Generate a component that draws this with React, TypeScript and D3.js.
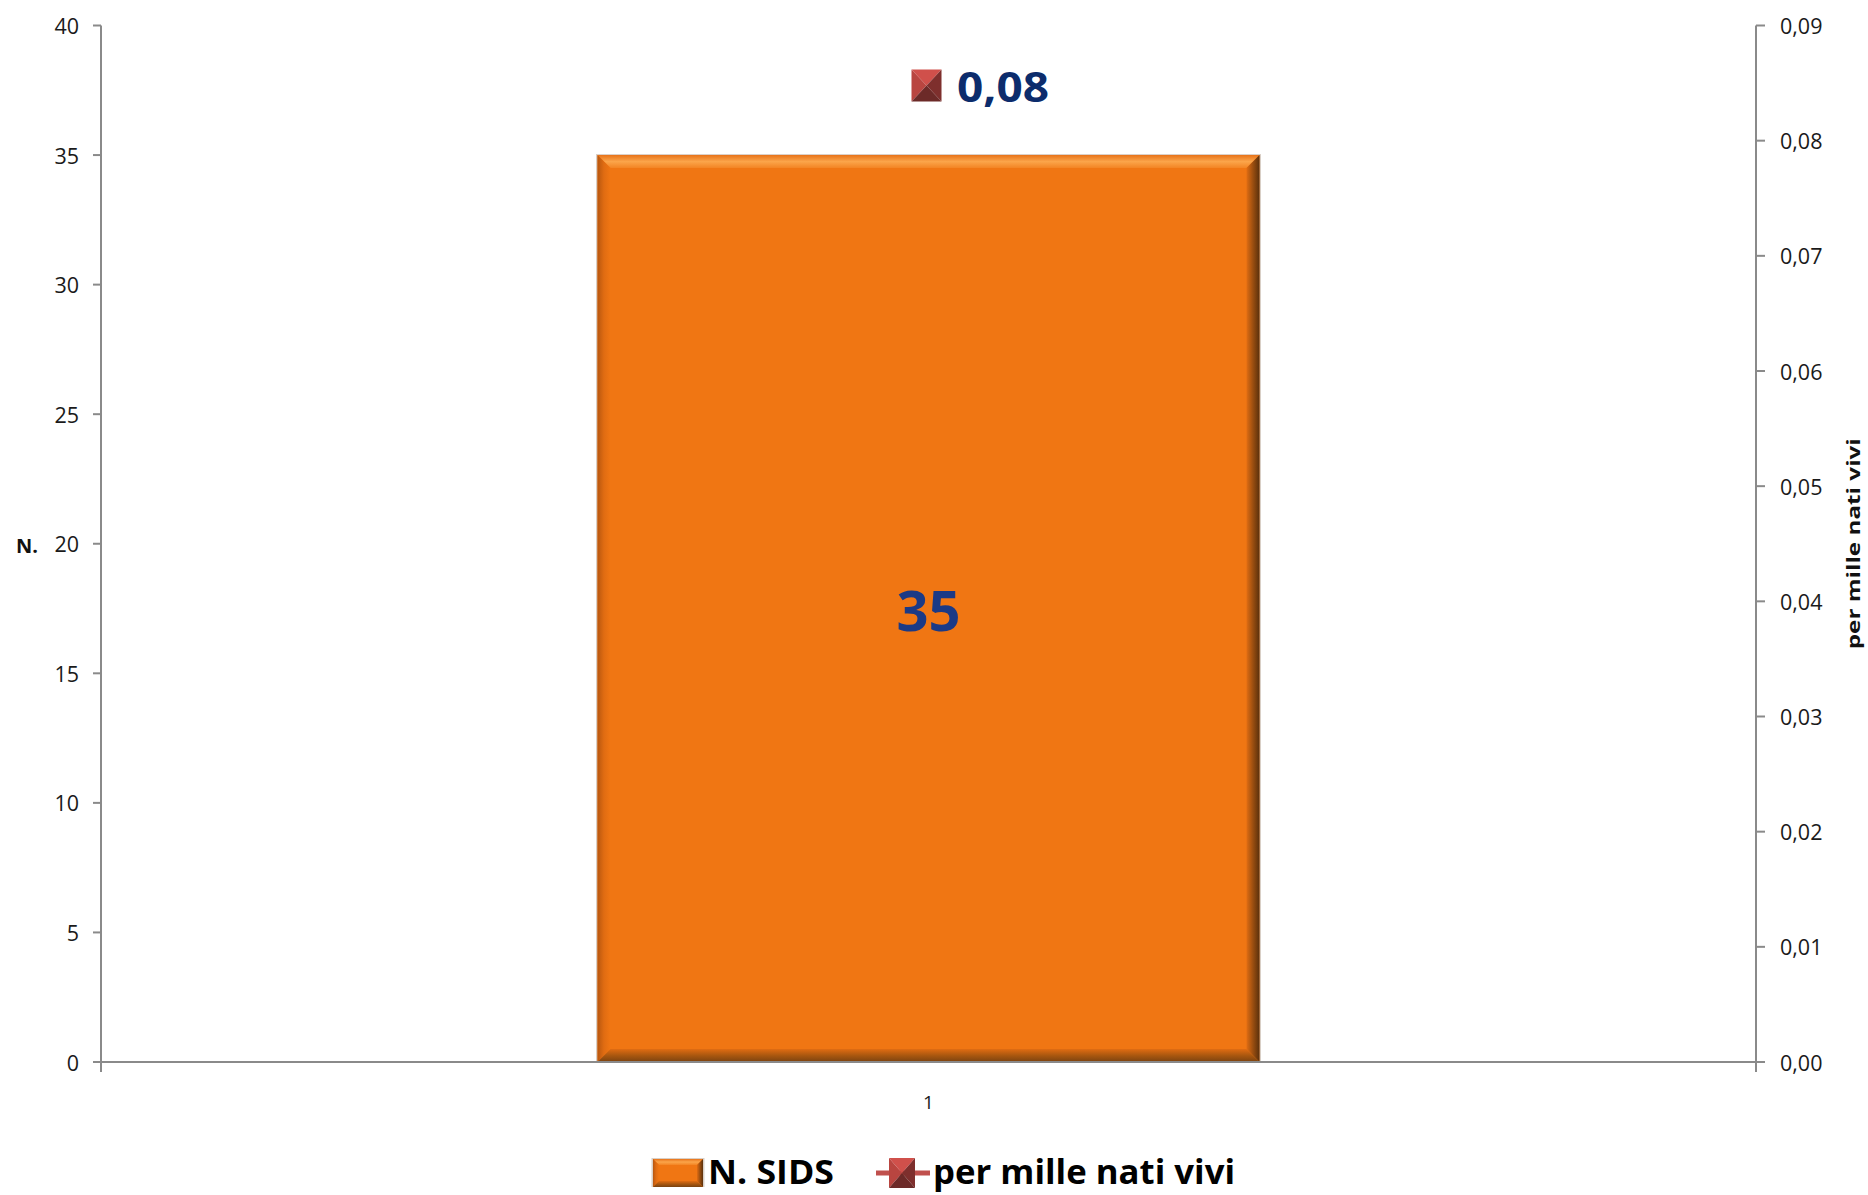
import React from "react";
import * as d3 from "d3";

const categories = ["1"];
const sidsCounts = [35];
const perMille = [0.0848];
const perMilleLabels = ["0,08"];
const leftTicks = [0, 5, 10, 15, 20, 25, 30, 35, 40];
const rightTicks = [0, 0.01, 0.02, 0.03, 0.04, 0.05, 0.06, 0.07, 0.08, 0.09];
const leftTitle = "N.";
const rightTitle = "per mille nati vivi";
const legendItems = ["N. SIDS", "per mille nati vivi"];

const W = 1868;
const H = 1195;
const X0 = 101;
const X1 = 1756;
const YTOP = 25.5;
const YBOT = 1062;
const FONT = "'Open Sans', 'Noto Sans', sans-serif";
const AXIS = "#8a8a8a";

const fmtRight = (v: number) => d3.format(".2f")(v).replace(".", ",");

function BevelRect({ x, y, w, h, b }: { x: number; y: number; w: number; h: number; b: number }) {
  const x2 = x + w;
  const y2 = y + h;
  return (
    <g>
      <rect x={x - 1.5} y={y - 1} width={w + 3} height={h + 1} fill="#d9cfc6" />
      <rect x={x} y={y} width={w} height={h} fill="#f07613" />
      <polygon points={`${x},${y} ${x2},${y} ${x2 - b},${y + b} ${x + b},${y + b}`} fill="url(#gTop)" />
      <polygon points={`${x},${y} ${x + b},${y + b} ${x + b},${y2 - b} ${x},${y2}`} fill="url(#gLeft)" />
      <polygon points={`${x2},${y} ${x2},${y2} ${x2 - b},${y2 - b} ${x2 - b},${y + b}`} fill="url(#gRight)" />
      <polygon points={`${x},${y2} ${x + b},${y2 - b} ${x2 - b},${y2 - b} ${x2},${y2}`} fill="url(#gBot)" />
    </g>
  );
}

function PyramidMarker({ cx, cy, w, h }: { cx: number; cy: number; w: number; h: number }) {
  const l = cx - w / 2, r = cx + w / 2, t = cy - h / 2, b = cy + h / 2;
  const ix = cx, iy = cy;
  return (
    <g>
      <polygon points={`${l},${t} ${r},${t} ${ix},${iy}`} fill="#d0504b" />
      <polygon points={`${l},${t} ${ix},${iy} ${l},${b}`} fill="#b94540" />
      <polygon points={`${r},${t} ${r},${b} ${ix},${iy}`} fill="#7e2f2d" />
      <polygon points={`${l},${b} ${ix},${iy} ${r},${b}`} fill="#6c2a28" />
    </g>
  );
}

export default function App() {
  const yLeft = d3.scaleLinear().domain([0, 40]).range([YBOT, YTOP]);
  const yRight = d3.scaleLinear().domain([0, 0.09]).range([YBOT, YTOP]);
  const x = d3.scaleBand<string>().domain(categories).range([X0, X1]).paddingInner(0.6).paddingOuter(0.3);

  return (
    <svg width={W} height={H} style={{ position: "absolute", left: 0, top: 0, background: "#fff" }} fontFamily={FONT}>
      <defs>
        <linearGradient id="gTop" x1="0" y1="0" x2="0" y2="1">
          <stop offset="0" stopColor="#e8731a" />
          <stop offset="0.5" stopColor="#fba54a" />
          <stop offset="1" stopColor="#f38423" />
        </linearGradient>
        <linearGradient id="gLeft" x1="0" y1="0" x2="1" y2="0">
          <stop offset="0" stopColor="#b8570f" />
          <stop offset="0.5" stopColor="#e06c12" />
          <stop offset="1" stopColor="#f07613" />
        </linearGradient>
        <linearGradient id="gRight" x1="1" y1="0" x2="0" y2="0">
          <stop offset="0" stopColor="#5a300c" />
          <stop offset="0.5" stopColor="#9a4e10" />
          <stop offset="1" stopColor="#e06c12" />
        </linearGradient>
        <linearGradient id="gBot" x1="0" y1="1" x2="0" y2="0">
          <stop offset="0" stopColor="#7a4210" />
          <stop offset="0.5" stopColor="#a9570f" />
          <stop offset="1" stopColor="#e06c12" />
        </linearGradient>
      </defs>

      {/* bars */}
      {categories.map((c, i) => {
        const bx = x(c)!;
        const bw = x.bandwidth();
        const by = yLeft(sidsCounts[i]);
        return (
          <g key={c}>
            <BevelRect x={bx} y={by} w={bw} h={YBOT - by} b={13} />
            <text
              x={bx + bw / 2}
              y={(by + YBOT) / 2}
              textAnchor="middle"
              dominantBaseline="central"
              fontSize={56}
              fontWeight={700}
              fill="#1b3a86"
            >
              {sidsCounts[i]}
            </text>
          </g>
        );
      })}

      {/* axes */}
      <line x1={X0} y1={YTOP} x2={X0} y2={YBOT + 10} stroke={AXIS} strokeWidth={2} />
      <line x1={X1} y1={YTOP} x2={X1} y2={YBOT + 10} stroke={AXIS} strokeWidth={2} />
      <line x1={X0 - 8} y1={YBOT} x2={X1 + 9} y2={YBOT} stroke={AXIS} strokeWidth={2} />
      {leftTicks.map((t) => (
        <g key={"l" + t}>
          <line x1={X0 - 8} x2={X0} y1={yLeft(t)} y2={yLeft(t)} stroke={AXIS} strokeWidth={2} />
          <text x={79} y={yLeft(t)} textAnchor="end" dominantBaseline="central" fontSize={21.5} fill="#1a1a1a">
            {t}
          </text>
        </g>
      ))}
      {rightTicks.map((t) => (
        <g key={"r" + t}>
          <line x1={X1} x2={X1 + 9} y1={yRight(t)} y2={yRight(t)} stroke={AXIS} strokeWidth={2} />
          <text x={1780} y={yRight(t)} textAnchor="start" dominantBaseline="central" fontSize={21.5} fill="#1a1a1a">
            {fmtRight(t)}
          </text>
        </g>
      ))}
      {categories.map((c) => (
        <text key={"x" + c} x={x(c)! + x.bandwidth() / 2} y={1102} textAnchor="middle" dominantBaseline="central" fontSize={19} fill="#1a1a1a">
          {c}
        </text>
      ))}
      <text x={27} y={yLeft(20) + 2} textAnchor="middle" dominantBaseline="central" fontSize={20} fontWeight={700} fill="#111">
        {leftTitle}
      </text>
      <text
        transform={`translate(1853, ${yLeft(20)}) rotate(-90)`}
        textAnchor="middle"
        dominantBaseline="central"
        fontSize={17}
        fontWeight={700}
        fill="#111"
        textLength={211}
        lengthAdjust="spacingAndGlyphs"
      >
        {rightTitle}
      </text>

      {/* line series marker + label */}
      {categories.map((c, i) => {
        const cx = x(c)! + x.bandwidth() / 2 - 2;
        const cy = yRight(perMille[i]);
        return (
          <g key={"m" + c}>
            <PyramidMarker cx={cx} cy={cy} w={30} h={32} />
            <text x={957} y={cy + 1} dominantBaseline="central" fontSize={41} fontWeight={700} fill="#0c2c6c" textLength={92} lengthAdjust="spacingAndGlyphs">
              {perMilleLabels[i]}
            </text>
          </g>
        );
      })}

      {/* legend */}
      <g>
        <BevelRect x={653} y={1159} w={50} h={28} b={6} />
        <text x={708} y={1171} dominantBaseline="central" fontSize={34} fontWeight={700} fill="#000" textLength={126} lengthAdjust="spacingAndGlyphs">
          {legendItems[0]}
        </text>
        <line x1={876} x2={930} y1={1173} y2={1173} stroke="#c0504d" strokeWidth={5} />
        <PyramidMarker cx={902} cy={1173} w={26} h={30} />
        <text x={933} y={1171} dominantBaseline="central" fontSize={34} fontWeight={700} fill="#000" textLength={302} lengthAdjust="spacingAndGlyphs">
          {legendItems[1]}
        </text>
      </g>
    </svg>
  );
}
